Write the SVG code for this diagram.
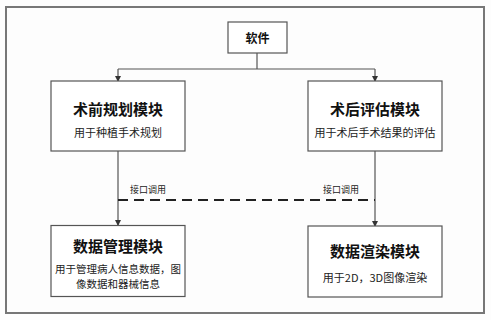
<svg xmlns="http://www.w3.org/2000/svg" width="491" height="320" viewBox="0 0 491 320">
<defs>
<marker id="arr" markerWidth="6" markerHeight="6" refX="5" refY="3" orient="auto" markerUnits="userSpaceOnUse">
<path d="M0,0 L6,3 L0,6 Z" fill="#333"/>
</marker>
<style>
.box{fill:#fff;stroke:#555;stroke-width:1.2}
.t{font-family:"Noto Sans CJK SC","Noto Sans",sans-serif;fill:#111;text-anchor:middle;dominant-baseline:central}
.title{font-size:15px;font-weight:bold}
.sub{font-size:11px;fill:#222}
.lab{font-size:9px;fill:#222}
.ln{fill:none;stroke:#555;stroke-width:1.2}
</style>
</defs>
<rect x="0" y="0" width="491" height="320" fill="#fdfdfd"/>
<rect x="6" y="7" width="478" height="306" fill="#fdfdfd" stroke="#777" stroke-width="2"/>
<g id="connectors">
<path class="ln" d="M257,53 V69"/>
<path class="ln" d="M118,69 H375"/>
<path class="ln" d="M118,69 V81" marker-end="url(#arr)"/>
<path class="ln" d="M375,69 V81" marker-end="url(#arr)"/>
<path class="ln" d="M118,151 V225" marker-end="url(#arr)"/>
<path class="ln" d="M375,151 V226" marker-end="url(#arr)"/>
<path d="M118,200 H375" fill="none" stroke="#222" stroke-width="2" stroke-dasharray="10,6"/>
<text class="t lab" x="148" y="189">接口调用</text>
<text class="t lab" x="341" y="189">接口调用</text>
</g>
<g id="software">
<rect class="box" x="228" y="22" width="59" height="31"/>
<text class="t" x="257.5" y="37.5" style="font-size:12px;font-weight:bold">软件</text>
</g>
<g id="preop">
<rect class="box" x="51" y="81" width="134" height="70"/>
<text class="t title" x="118" y="108">术前规划模块</text>
<text class="t sub" x="118" y="132">用于种植手术规划</text>
</g>
<g id="postop">
<rect class="box" x="308" y="81" width="134" height="70"/>
<text class="t title" x="375" y="108">术后评估模块</text>
<text class="t sub" x="375" y="132">用于术后手术结果的评估</text>
</g>
<g id="datamgmt">
<rect class="box" x="51" y="225.5" width="134" height="71"/>
<text class="t title" x="118" y="245">数据管理模块</text>
<text class="t sub" x="118" y="268" style="font-size:10.5px">用于管理病人信息数据，图</text>
<text class="t sub" x="118" y="283" style="font-size:10.5px">像数据和器械信息</text>
</g>
<g id="render">
<rect class="box" x="308" y="226" width="134" height="71"/>
<text class="t title" x="375" y="250">数据渲染模块</text>
<text class="t sub" x="375" y="277">用于2D，3D图像渲染</text>
</g>
</svg>
